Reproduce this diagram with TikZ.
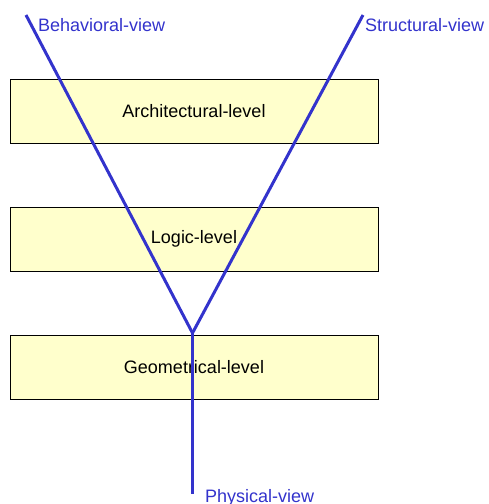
\documentclass[tikz,border=0pt]{standalone}
\usepackage{fontspec}
\setmainfont{Liberation Sans}
\usepackage{tikz}
\usetikzlibrary{positioning}
\definecolor{viewblue}{HTML}{3333CC}
\definecolor{levelfill}{HTML}{FFFFCC}
\tikzstyle{level} = [rectangle, draw=black, fill=levelfill, line width=1pt, minimum width=368pt, minimum height=64pt, inner sep=0pt, font=\fontsize{18}{20}\selectfont]
\tikzstyle{view} = [inner sep=0pt, anchor=base west, text=viewblue, font=\fontsize{18}{20}\selectfont]
\tikzstyle{axis} = [draw=viewblue, line width=3pt]

\begin{document}
\begin{tikzpicture}[x=1pt, y=-1pt]
    \useasboundingbox (0,0) rectangle (489,504);

    \node (arch) [level] at (194,111) {Architectural-level};
    \node (logic) [level] at (194,239) {Logic-level};
    \node (geom) [level] at (194,367) {Geometrical-level};

    \coordinate (btop) at (26,15);
    \coordinate (stop) at (363,15);
    \coordinate (fork) at (192.5,333);
    \coordinate (pbot) at (192.5,494);

    \draw[axis] (btop) -- (fork);
    \draw[axis] (stop) -- (fork);
    \draw[axis] (fork) -- (pbot);

    \node (bview) [view] at (38,31) {Behavioral-view};
    \node (sview) [view] at (365,31) {Structural-view};
    \node (pview) [view] at (205,502) {Physical-view};
  \end{tikzpicture}
\end{document}
